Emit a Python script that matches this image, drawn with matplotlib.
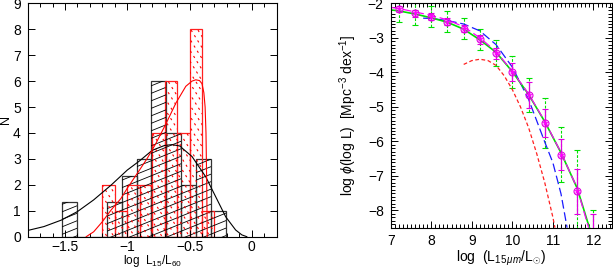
import numpy as np
import matplotlib
matplotlib.use("Agg")
import matplotlib.pyplot as plt
from matplotlib.ticker import MultipleLocator

plt.rcParams['font.family'] = ['Liberation Sans', 'DejaVu Sans']
plt.rcParams['mathtext.fontset'] = 'custom'
plt.rcParams['mathtext.rm'] = 'Liberation Sans'
plt.rcParams['mathtext.it'] = 'Liberation Sans:italic'

# ---- left panel data: histograms of log L15/L60 ----
blk_edges0 = -1.526
blk_width = 0.12
blk_counts = [1.33, 0, 0, 1.33, 2.33, 3, 6, 4, 2, 3, 1]

red_edges0 = -1.2
red_width = 0.1
red_counts = [2, 1, 2, 2, 4, 6, 4, 8, 1]

# fitted curves
blk_curve_x = [-1.8, -1.67, -1.53, -1.4, -1.27, -1.13, -1.0, -0.9, -0.8, -0.7, -0.64,
               -0.58, -0.48, -0.37, -0.29, -0.21, -0.13, -0.08, -0.04]
blk_curve_y = [0.24, 0.39, 0.64, 0.97, 1.42, 1.99, 2.57, 2.93, 3.33, 3.52, 3.55,
               3.5, 3.09, 2.31, 1.54, 0.77, 0.26, 0.07, 0.0]
red_curve_x = [-1.33, -1.27, -1.2, -1.13, -1.05, -1.0, -0.92, -0.84, -0.77, -0.69, -0.61,
               -0.53, -0.48, -0.45, -0.42, -0.40, -0.385, -0.375, -0.368, -0.362, -0.358]
red_curve_y = [0.0, 0.19, 0.58, 1.03, 1.48, 1.87, 2.44, 3.02, 3.6, 4.35, 5.15,
               5.8, 6.0, 6.05, 6.02, 5.9, 5.55, 5.0, 4.0, 2.0, 0.0]

# ---- right panel data: luminosity function ----
lf_x = [7.2, 7.6, 8.0, 8.4, 8.8, 9.2, 9.6, 10.0, 10.4, 10.8, 11.2, 11.6, 12.0]
lf_y = [-2.17, -2.29, -2.39, -2.53, -2.73, -3.04, -3.45, -3.98, -4.66, -5.46, -6.38, -7.45, -8.8]
err_mag = [0.09, 0.1, 0.1, 0.1, 0.1, 0.13, 0.16, 0.26, 0.38, 0.4, 0.44, 0.65, 0.7]
err_grn = [0.38, 0.34, 0.31, 0.3, 0.29, 0.3, 0.38, 0.46, 0.5, 0.72, 0.8, 1.2, 0.82]

grn_x = [7.0, 7.2, 7.6, 8.0, 8.4, 8.8, 9.2, 9.6, 10.0, 10.4, 10.8, 11.2, 11.6, 11.9]
grn_y = [-2.19, -2.22, -2.31, -2.42, -2.55, -2.75, -3.06, -3.42, -3.98, -4.64, -5.43, -6.33, -7.36, -8.5]
mag_x = [7.0, 7.2, 7.6, 8.0, 8.4, 8.8, 9.2, 9.6, 10.0, 10.4, 10.8, 11.2, 11.6, 11.88]
mag_y = [-2.12, -2.15, -2.25, -2.35, -2.48, -2.68, -3.0, -3.4, -3.97, -4.62, -5.42, -6.32, -7.36, -8.5]
blu_x = [7.8, 8.0, 8.4, 8.8, 9.2, 9.6, 10.0, 10.4, 10.8, 11.0, 11.2, 11.35]
blu_y = [-2.43, -2.44, -2.5, -2.6, -2.8, -3.2, -3.85, -4.78, -6.02, -6.62, -7.52, -8.5]
red_lf_x = [8.8, 9.0, 9.2, 9.4, 9.6, 9.8, 10.0, 10.2, 10.4, 10.6, 10.8, 11.0, 11.05]
red_lf_y = [-3.77, -3.66, -3.62, -3.66, -3.8, -4.1, -4.5, -5.0, -5.6, -6.35, -7.2, -8.2, -8.5]

fig = plt.figure(figsize=(6.13, 2.68), dpi=100)
ax1 = fig.add_axes([27.7 / 613, 31.3 / 268, 249 / 613, 233.4 / 268])
ax2 = fig.add_axes([390.7 / 613, 40.3 / 268, 221 / 613, 224.4 / 268])


def style_axes(ax):
    ax.tick_params(which='both', direction='in', top=True, right=True,
                   width=0.7, labelsize=10)
    ax.tick_params(which='major', length=5)
    ax.tick_params(which='minor', length=2.8)
    ax.tick_params(axis='x', pad=2.6)
    ax.tick_params(axis='y', pad=5)
    for s in ax.spines.values():
        s.set_linewidth(0.8)


def hatch_bars(ax, bars, angle, spacing, color, lw, dashes=None):
    # draw hatch lines in pixel space, clipped to each bar
    inv = ax.transData.inverted()
    bb = ax.bbox
    t = np.tan(np.radians(angle))
    w, h = bb.width, bb.height
    xs = np.array([bb.x0, bb.x1])
    for c in np.arange(-abs(t) * w - h, h + abs(t) * w, spacing):
        ys = bb.y0 + c + t * (xs - bb.x0)
        pts = inv.transform(np.column_stack([xs, ys]))
        for bar in bars:
            ln, = ax.plot(pts[:, 0], pts[:, 1], color=color, lw=lw,
                          scalex=False, scaley=False)
            if dashes:
                ln.set_dashes(dashes)
            ln.set_clip_path(bar)


# ---- left panel ----
ax1.set_xlim(-1.8, 0.2)
ax1.set_ylim(0, 9)
style_axes(ax1)
ax1.xaxis.set_major_locator(MultipleLocator(0.5))
ax1.xaxis.set_minor_locator(MultipleLocator(0.1))
ax1.yaxis.set_major_locator(MultipleLocator(1))
ax1.set_xticks([-1.5, -1, -0.5, 0])
ax1.set_xticklabels(['\u22121.5', '\u22121', '\u22120.5', '0'])

blk_left = blk_edges0 + blk_width * np.arange(len(blk_counts))
red_left = red_edges0 + red_width * np.arange(len(red_counts))

bk = ax1.bar(blk_left, blk_counts, width=blk_width, align='edge', fill=False,
             edgecolor='#333333', linewidth=0.9)
rd = ax1.bar(red_left, red_counts, width=red_width, align='edge', fill=False,
             edgecolor='#ff2020', linewidth=0.9)
hatch_bars(ax1, [b for b in bk if b.get_height() > 0], 22, 7.5, 'black', 0.6)
hatch_bars(ax1, list(rd), -58, 11, 'red', 0.8, dashes=(2.0, 3.5))

ax1.plot(blk_curve_x, blk_curve_y, color='black', lw=0.8)
ax1.plot(red_curve_x, red_curve_y, color='red', lw=0.8)

ax1.set_xlabel(r'log  L$_{15}$/L$_{60}$', fontsize=8.5, va='center')
ax1.set_ylabel('N', fontsize=9)
ax1.xaxis.set_label_coords(0.5, -0.106)
ax1.yaxis.set_label_coords(-0.065, 0.5)

# ---- right panel ----
ax2.set_xlim(7, 12.45)
ax2.set_ylim(-8.5, -2)
style_axes(ax2)
ax2.xaxis.set_major_locator(MultipleLocator(1))
ax2.xaxis.set_minor_locator(MultipleLocator(0.1))
ax2.yaxis.set_major_locator(MultipleLocator(1))
ax2.yaxis.set_minor_locator(MultipleLocator(0.1))
ax2.tick_params(axis='x', pad=4.3)

eg = ax2.errorbar(lf_x, lf_y, yerr=err_grn, fmt='none', ecolor='#00e000',
                  elinewidth=0.8, capsize=2.5, capthick=0.8)
eg[2][0].set_linestyle((0, (2.5, 1.5)))

ax2.plot(red_lf_x, red_lf_y, color='#ff2020', lw=0.9, dashes=(3, 2))
ax2.plot(blu_x, blu_y, color='#1a1aff', lw=0.9, dashes=(7, 3))
ax2.plot(grn_x, grn_y, color='#00e000', lw=1.2)
ax2.plot(mag_x, mag_y, color='#ff00ff', lw=0.9, dashes=(7, 3))

ax2.errorbar(lf_x, lf_y, yerr=err_mag, fmt='none', ecolor='#e000e0',
             elinewidth=0.9, capsize=2.5, capthick=0.8)
ax2.plot(lf_x, lf_y, 'o', ms=5, mfc='none', mec='#e000e0', mew=0.8)
ax2.plot(lf_x, lf_y, '*', ms=4, color='#ff00ff', mew=0.4)

ax2.set_xlabel(r'log  (L$_{15\,\mu m}$/L$_{\odot}$)', fontsize=10)
ax2.set_ylabel(r'log $\phi$(log L)  [Mpc$^{-3}$ dex$^{-1}$]', fontsize=10)
ax2.xaxis.set_label_coords(0.5, -0.095)
ax2.yaxis.set_label_coords(-0.145, 0.5)

fig.savefig('out.png', dpi=100)
